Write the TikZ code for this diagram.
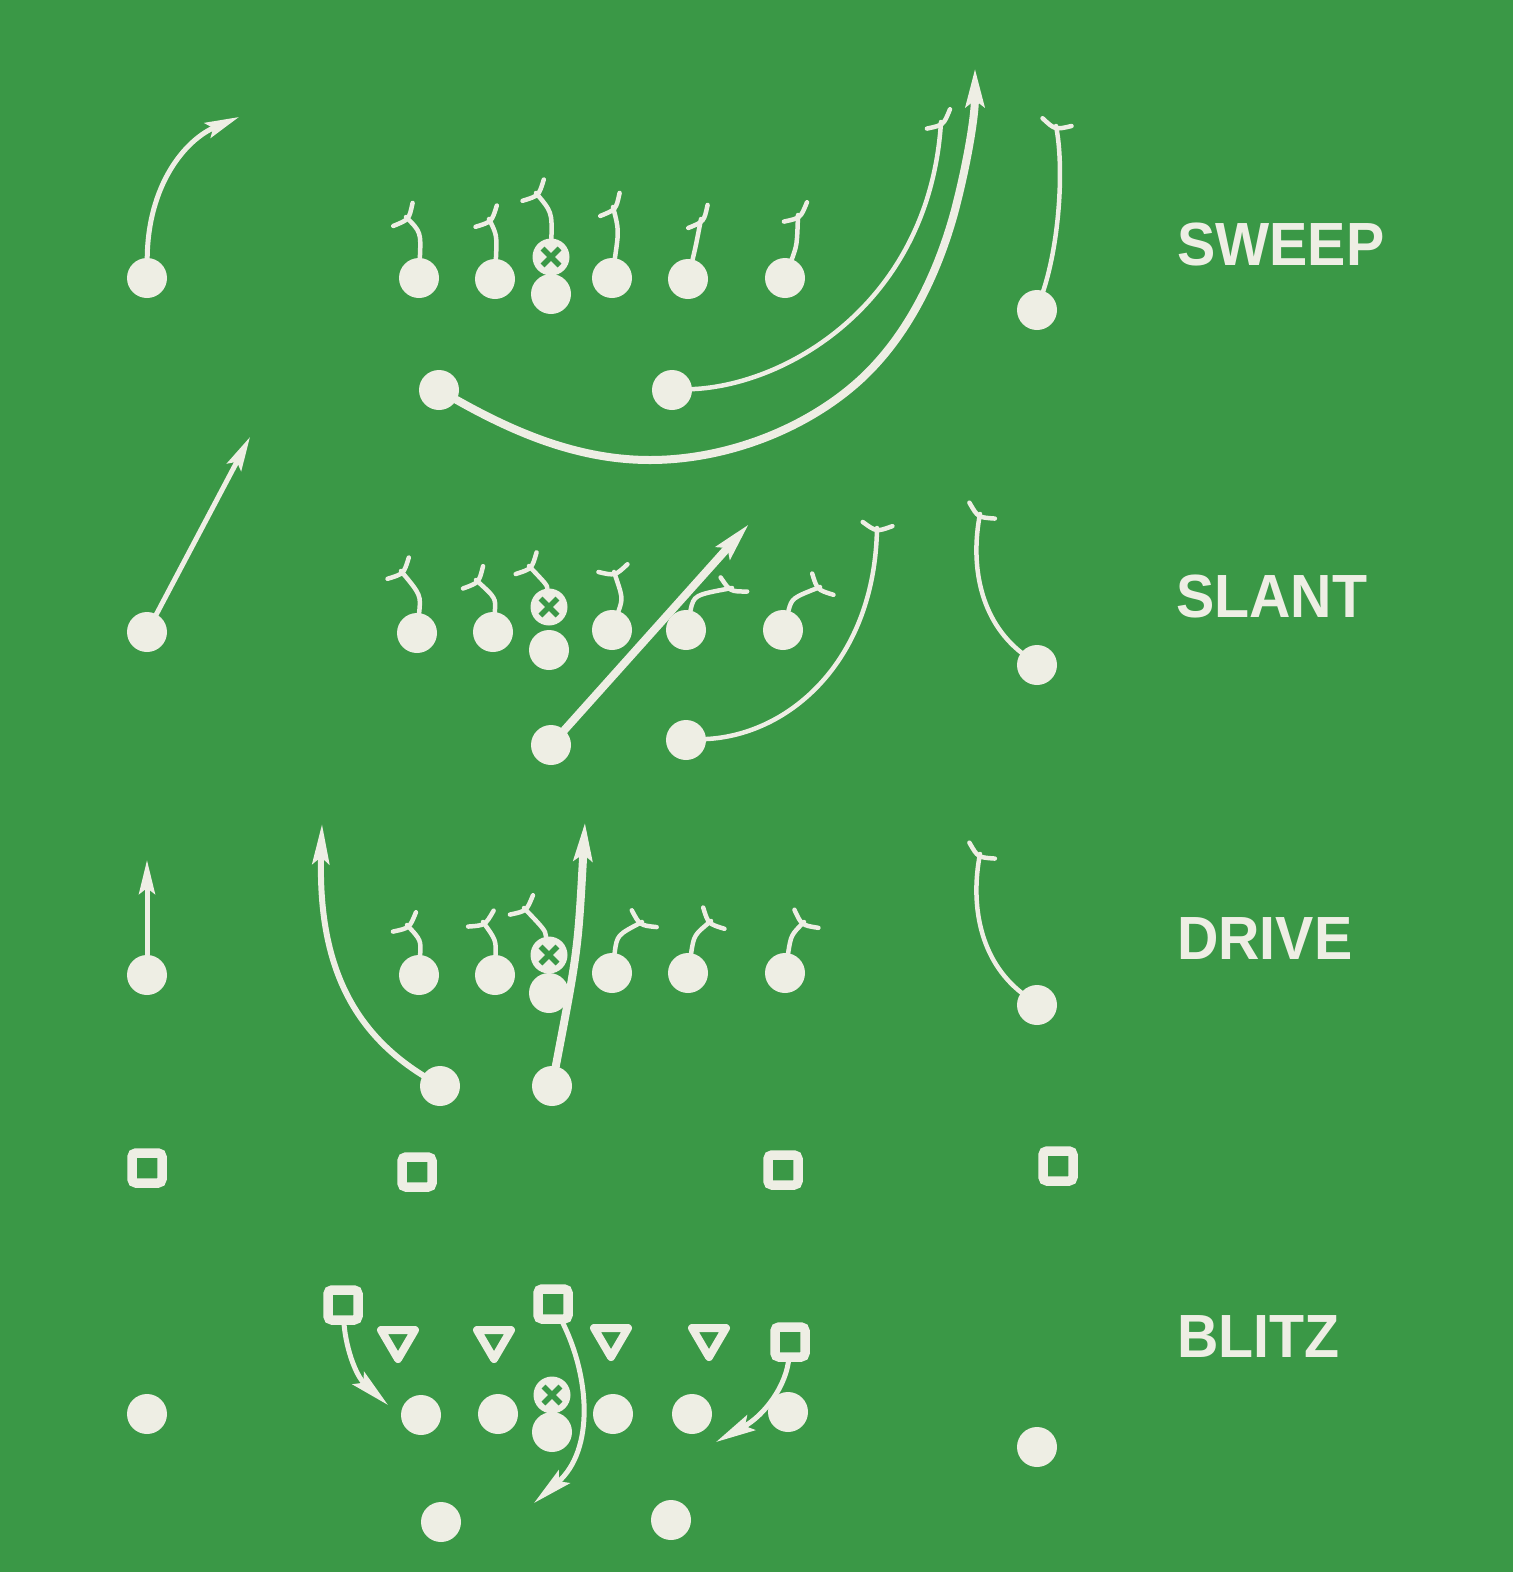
\documentclass[tikz,border=0pt]{standalone}
\usepackage{fontspec}
\setmainfont{Liberation Sans}
\usetikzlibrary{arrows.meta}
\definecolor{field}{RGB}{58,152,70}
\definecolor{chalk}{RGB}{238,238,228}
\tikzset{
  player/.style={circle,fill=chalk,minimum size=40pt,inner sep=0pt,outer sep=0pt},
  snap/.style={circle,fill=chalk,minimum size=37pt,inner sep=0pt,outer sep=0pt},
  backer/.style={rectangle,draw=chalk,line width=9.5pt,minimum size=30pt,inner sep=0pt,rounded corners=4pt,outer sep=0pt},
  blockline/.style={draw=chalk,line width=4.5pt,line cap=round},
  route/.style={draw=chalk,line width=5pt,line cap=round},
  route6/.style={draw=chalk,line width=6pt,line cap=round},
  run/.style={draw=chalk,line width=8pt,line cap=round},
  tipS/.style={-{Stealth[length=34pt,width=16pt,inset=6pt]}},
  tipM/.style={-{Stealth[length=40pt,width=17pt,inset=7pt]}},
  tipL/.style={-{Stealth[length=38pt,width=18pt,inset=6pt]}},
  blockbar/.pic={\draw[blockline] (-15,-4) .. controls (0,4) .. (15,-4);},
  dlineman/.pic={\draw[draw=chalk,line width=8pt,line join=round] (-17,-12) -- (17,-12) -- (0,17) -- cycle;},
  playname/.style={font=\bfseries\fontsize{61}{61}\selectfont,text=chalk,anchor=base west,xscale=0.94,inner sep=0pt},
}
\newcommand\blockmark[4]{\coordinate (#1-e) at #3; \draw[blockline] (#1) .. controls #2 .. (#1-e); \pic[rotate=#4] at (#1-e) {blockbar};}
\newcommand\blockmarkc[5]{\coordinate (#1-e) at #4; \draw[blockline] (#1) .. controls #2 and #3 .. (#1-e); \pic[rotate=#5] at (#1-e) {blockbar};}
\newcommand\ballx[1]{\draw[field,line width=5.5pt] ([shift={(-8.5,-8.5)}]#1.center) -- ([shift={(8.5,8.5)}]#1.center) ([shift={(-8.5,8.5)}]#1.center) -- ([shift={(8.5,-8.5)}]#1.center);}
\begin{document}
\begin{tikzpicture}[x=1pt,y=-1pt]
\fill[field] (0,0) rectangle (1513,1572);
\useasboundingbox (0,0) rectangle (1513,1572);

% ---------- SWEEP ----------
\node[player] (wr1) at (147,278) {};
\node[player] (a1) at (419,278) {};
\node[player] (a2) at (495,279) {};
\node[snap] (ax) at (551,257) {};
\node[player] (ac) at (551,294) {};
\node[player] (a4) at (612,278) {};
\node[player] (a5) at (688,279) {};
\node[player] (a6) at (785,278) {};
\node[player] (te1) at (1037,310) {};
\node[player] (rb1a) at (439,390) {};
\node[player] (rb1b) at (672,390) {};

\blockmark{a1}{(421,232)}{(406,217)}{50}
\blockmark{a2}{(497,235)}{(489,219)}{45}
\blockmark{ax}{(552,212)}{(536,193)}{45}
\blockmark{a4}{(619,230)}{(613,207)}{50}
\blockmark{a5}{(696,245)}{(701,219)}{50}
\blockmark{a6}{(797,245)}{(798,215)}{40}
\blockmarkc{te1}{(1060,240)}{(1064,165)}{(1056,126)}{-15}

\coordinate (wr1-e) at (239,117);
\draw[route,tipS] (wr1) .. controls (148,185) and (185,140) .. (wr1-e);
\coordinate (rb1a-e) at (975,68);
\draw[run,tipL] (rb1a) .. controls (517,434) and (580,460) .. (650,460)
  .. controls (725,460) and (805,430) .. (860,380)
  .. controls (908,336) and (938,273) .. (955,210)
  .. controls (967,164) and (975,117) .. (rb1a-e);
\blockmarkc{rb1b}{(790,385)}{(930,300)}{(941,122)}{40}

% ---------- SLANT ----------
\node[player] (wr2) at (147,632) {};
\node[player] (b1) at (417,633) {};
\node[player] (b2) at (493,632) {};
\node[snap] (bx) at (549,607) {};
\node[player] (bc) at (549,650) {};
\node[player] (b4) at (612,630) {};
\node[player] (b5) at (686,630) {};
\node[player] (b6) at (783,630) {};
\node[player] (te2) at (1037,665) {};
\node[player] (rb2a) at (551,745) {};
\node[player] (rb2b) at (686,740) {};

\blockmark{b1}{(421,595)}{(401,571)}{45}
\blockmark{b2}{(496,598)}{(476,580)}{48}
\blockmark{bx}{(547,585)}{(529,566)}{46}
\blockmark{b4}{(623,598)}{(614,572)}{15}
\blockmark{b5}{(694,595)}{(732,588)}{-28}
\blockmark{b6}{(792,598)}{(820,587)}{-45}
\blockmarkc{te2}{(980,620)}{(970,565)}{(980,514)}{-32}
\blockmarkc{rb2b}{(790,735)}{(875,660)}{(877,528)}{-8}

\coordinate (wr2-e) at (250,437);
\draw[route,tipS] (wr2) -- (wr2-e);
\coordinate (rb2a-e) at (749,524);
\draw[run,tipL] (rb2a) -- (rb2a-e);

% ---------- DRIVE ----------
\node[player] (wr3) at (147,975) {};
\node[player] (c1) at (419,975) {};
\node[player] (c2) at (495,975) {};
\node[snap] (cx) at (549,955) {};
\node[player] (cc) at (549,993) {};
\node[player] (c4) at (612,973) {};
\node[player] (c5) at (688,973) {};
\node[player] (c6) at (785,973) {};
\node[player] (te3) at (1037,1005) {};
\node[player] (rb3a) at (440,1086) {};
\node[player] (rb3b) at (552,1086) {};

\blockmark{c1}{(421,940)}{(407,925)}{40}
\blockmark{c2}{(496,940)}{(483,922)}{32}
\blockmark{cx}{(545,930)}{(524,908)}{40}
\blockmark{c4}{(617,935)}{(642,922)}{-34}
\blockmark{c5}{(694,935)}{(711,921)}{-45}
\blockmark{c6}{(791,935)}{(804,922)}{-37}
\blockmarkc{te3}{(980,960)}{(970,905)}{(980,854)}{-32}

\coordinate (wr3-e) at (147,860);
\draw[route,tipS] (wr3) -- (wr3-e);
\coordinate (rb3a-e) at (322,824);
\draw[route6,tipM] (rb3a) .. controls (350,1030) and (318,960) .. (rb3a-e);
\coordinate (rb3b-e) at (585,822);
\draw[run,tipL] (rb3b) .. controls (578,950) .. (rb3b-e);

% ---------- deep backs ----------
\node[backer] (q1) at (147,1168) {};
\node[backer] (q2) at (417,1172) {};
\node[backer] (q3) at (783,1170) {};
\node[backer] (q4) at (1058,1166) {};

% ---------- BLITZ ----------
\node[player] (wr4) at (147,1414) {};
\node[player] (d1) at (421,1415) {};
\node[player] (d2) at (498,1414) {};
\node[snap] (dx) at (552,1395) {};
\node[player] (dc) at (552,1432) {};
\node[player] (d4) at (613,1414) {};
\node[player] (d5) at (692,1414) {};
\node[player] (d6) at (788,1412) {};
\node[player] (te4) at (1037,1447) {};
\node[player] (rb4a) at (441,1522) {};
\node[player] (rb4b) at (671,1520) {};

\node[backer] (s1) at (343,1305) {};
\node[backer] (s2) at (553,1304) {};
\node[backer] (s3) at (790,1342) {};
\pic at (398,1342) {dlineman};
\pic at (494,1342) {dlineman};
\pic at (611,1340) {dlineman};
\pic at (709,1340) {dlineman};

\coordinate (s1-e) at (388,1405);
\draw[route,tipM] (s1) .. controls (345,1345) and (355,1375) .. (s1-e);
\coordinate (s2-e) at (534,1503);
\draw[route,tipM] (s2) .. controls (590,1375) and (595,1450) .. (s2-e);
\coordinate (s3-e) at (716,1442);
\draw[route,tipM] (s3) .. controls (787,1385) and (765,1415) .. (s3-e);

% ---------- X on the centres ----------
\ballx{ax}
\ballx{bx}
\ballx{cx}
\ballx{dx}

% ---------- labels ----------
\node[playname] (lsweep) at (1177,265) {SWEEP};
\node[playname] (lslant) at (1176,617) {SLANT};
\node[playname] (ldrive) at (1177,959) {DRIVE};
\node[playname] (lblitz) at (1177,1357) {BLITZ};
\end{tikzpicture}
\end{document}
